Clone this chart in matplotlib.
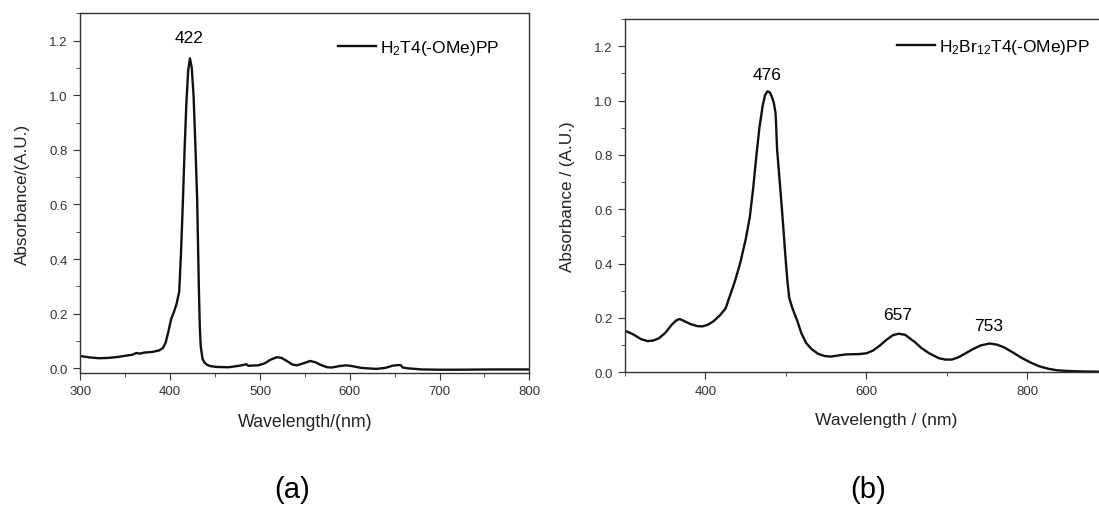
import matplotlib
matplotlib.use('Agg')
import matplotlib.pyplot as plt
from matplotlib.ticker import MultipleLocator, FormatStrFormatter

plt.rcParams['font.family'] = ['Liberation Sans', 'DejaVu Sans']
plt.rcParams['mathtext.fontset'] = 'custom'
plt.rcParams['mathtext.rm'] = 'Liberation Sans'
plt.rcParams['mathtext.default'] = 'rm'

# (a) H2T4(-OMe)PP
wl_a = [300, 310, 320, 330, 340, 350, 358, 362, 366, 372, 380, 388, 392, 395, 398, 401,
        404, 407, 410, 412, 414, 416, 418, 420, 422, 424, 426, 428, 430, 431, 432, 433,
        434, 436, 438, 441, 445, 452, 465, 478, 485, 487, 490, 498, 505, 512, 519, 524,
        530, 536, 541, 548, 556, 562, 568, 575, 580, 588, 596, 603, 612, 620, 630, 640,
        648, 655, 657, 659, 665, 680, 700, 720, 760, 800]
abs_a = [0.045, 0.040, 0.037, 0.038, 0.041, 0.046, 0.050, 0.056, 0.054, 0.058, 0.060, 0.066,
         0.075, 0.095, 0.135, 0.180, 0.205, 0.235, 0.28, 0.42, 0.60, 0.80, 0.97, 1.09, 1.135,
         1.10, 1.00, 0.82, 0.62, 0.45, 0.28, 0.15, 0.08, 0.035, 0.022, 0.013, 0.008, 0.005,
         0.004, 0.010, 0.015, 0.009, 0.010, 0.011, 0.018, 0.032, 0.041, 0.038, 0.027, 0.014,
         0.011, 0.018, 0.027, 0.022, 0.012, 0.004, 0.003, 0.008, 0.011, 0.008, 0.002, 0.000,
         -0.002, 0.002, 0.010, 0.012, 0.011, 0.003, 0.000, -0.004, -0.005, -0.005, -0.004,
         -0.004]

# (b) H2Br12T4(-OMe)PP
wl_b = [300, 310, 320, 328, 335, 342, 350, 358, 364, 368, 374, 381, 390, 396, 403, 410,
        418, 425, 429, 436, 443, 450, 455, 459, 463, 467, 471, 474, 477, 480, 483, 485,
        487, 487.5, 489, 492, 495, 498, 500, 502, 504, 507, 510, 514, 519, 525, 532, 540,
        548, 556, 565, 575, 590, 600, 608, 616, 625, 633, 640, 648, 654, 656, 660, 668,
        678, 690, 698, 706, 714, 722, 732, 742, 753, 762, 771, 782, 793, 804, 815, 826,
        837, 850, 870, 900, 950]
abs_b = [0.153, 0.140, 0.122, 0.115, 0.117, 0.125, 0.145, 0.175, 0.192, 0.196, 0.188, 0.178,
         0.170, 0.169, 0.175, 0.188, 0.210, 0.235, 0.27, 0.33, 0.40, 0.49, 0.57, 0.67, 0.79,
         0.90, 0.98, 1.02, 1.034, 1.03, 1.01, 0.99, 0.955, 0.93, 0.82, 0.71, 0.60, 0.48,
         0.40, 0.33, 0.275, 0.245, 0.22, 0.19, 0.145, 0.108, 0.085, 0.068, 0.060, 0.058,
         0.062, 0.066, 0.067, 0.070, 0.080, 0.097, 0.120, 0.137, 0.142, 0.138, 0.125, 0.120,
         0.112, 0.090, 0.070, 0.052, 0.047, 0.047, 0.055, 0.068, 0.085, 0.099, 0.106, 0.102,
         0.092, 0.073, 0.053, 0.036, 0.022, 0.013, 0.0075, 0.005, 0.003, 0.002, 0.002]

peaks_a = [422]
peaks_b = [476, 657, 753]

fig = plt.figure(figsize=(10.99, 5.06), dpi=100)
ax1 = fig.add_axes([0.0732, 0.2609, 0.4084, 0.7115])
ax2 = fig.add_axes([0.5687, 0.2622, 0.476, 0.6982])

gray = '#333333'
for ax in (ax1, ax2):
    for s in ax.spines.values():
        s.set_color(gray)
        s.set_linewidth(1.0)
    ax.tick_params(which='both', direction='out', colors=gray, labelsize=9.5,
                   top=False, right=False)
    ax.tick_params(which='major', length=5, pad=4)
    ax.tick_params(which='minor', length=3)
    ax.yaxis.set_major_locator(MultipleLocator(0.2))
    ax.yaxis.set_minor_locator(MultipleLocator(0.1))
    ax.yaxis.set_major_formatter(FormatStrFormatter('%.1f'))

ax1.plot(wl_a, abs_a, color='#111111', lw=1.7, label=r'H$_2$T4(-OMe)PP')
ax1.set_xlim(300, 800)
ax1.set_ylim(-0.017, 1.301)
ax1.xaxis.set_major_locator(MultipleLocator(100))
ax1.xaxis.set_minor_locator(MultipleLocator(50))
ax1.set_xlabel('Wavelength/(nm)', fontsize=12.8, color='#222222', labelpad=11)
ax1.set_ylabel('Absorbance/(A.U.)', fontsize=12.3, color='#222222', labelpad=14)
ax1.text(421.4, 1.21, str(peaks_a[0]), ha='center', va='center', fontsize=12.5)
ax1.legend(loc='center left', bbox_to_anchor=(0.573, 0.905), frameon=False, fontsize=12.5,
           handlelength=2.2, handletextpad=0.25, borderpad=0, borderaxespad=0)

ax2.plot(wl_b, abs_b, color='#111111', lw=1.7, label=r'H$_2$Br$_{12}$T4(-OMe)PP')
ax2.set_xlim(300, 950)
ax2.set_ylim(0, 1.3)
ax2.xaxis.set_major_locator(MultipleLocator(200))
ax2.xaxis.set_minor_locator(MultipleLocator(100))
ax2.set_xlabel('Wavelength / (nm)', fontsize=12.6, color='#222222', labelpad=11)
ax2.set_ylabel('Absorbance / (A.U.)', fontsize=12.3, color='#222222', labelpad=14)
ax2.text(477, 1.096, str(peaks_b[0]), ha='center', va='center', fontsize=12.5)
ax2.text(639, 0.213, str(peaks_b[1]), ha='center', va='center', fontsize=12.5)
ax2.text(752, 0.173, str(peaks_b[2]), ha='center', va='center', fontsize=12.5)
ax2.legend(loc='center left', bbox_to_anchor=(0.519, 0.923), frameon=False, fontsize=12.5,
           handlelength=2.2, handletextpad=0.25, borderpad=0, borderaxespad=0)

fig.text(0.2655, 0.032, '(a)', ha='center', va='center', fontsize=21)
fig.text(0.79, 0.032, '(b)', ha='center', va='center', fontsize=21)

fig.savefig('out.png', dpi=100)
